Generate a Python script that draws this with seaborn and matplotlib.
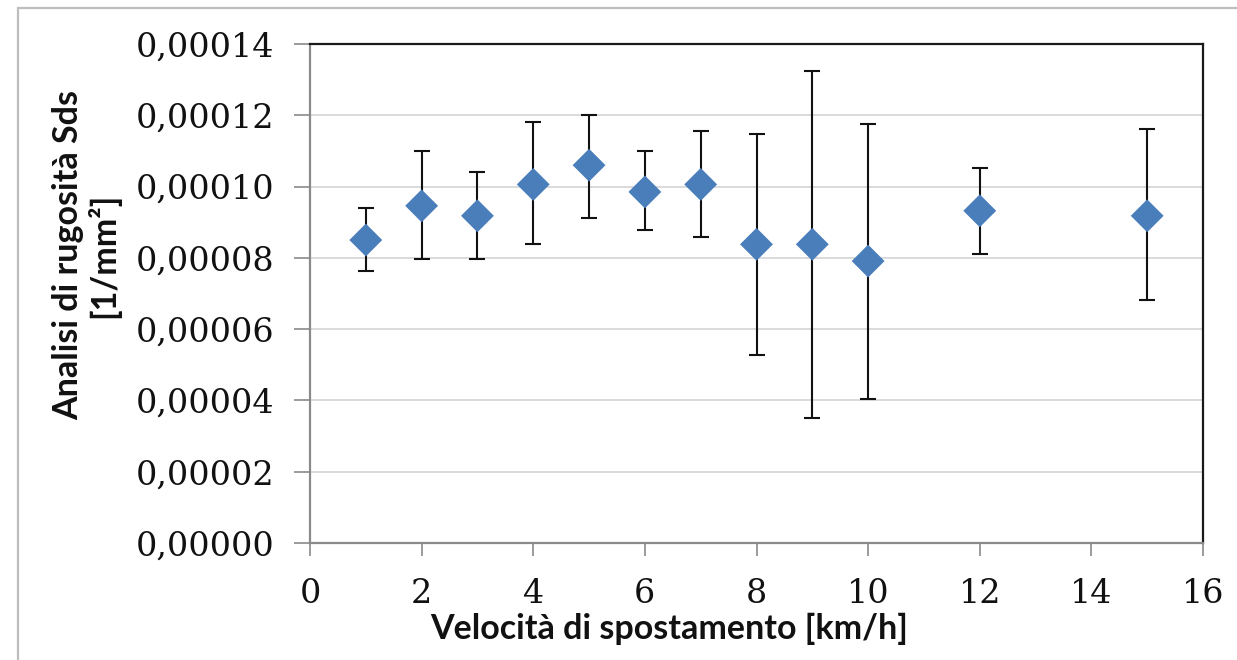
import numpy as np
import pandas as pd
import matplotlib
matplotlib.use("Agg")
import matplotlib.pyplot as plt
from matplotlib.patches import Rectangle
from matplotlib.ticker import FuncFormatter, MultipleLocator
import seaborn as sns

# Travel speed [km/h]
velocita = [1, 2, 3, 4, 5, 6, 7, 8, 9, 10, 12, 15]
# Mean Sds roughness [1/mm^2]
sds_media = [8.50e-5, 9.46e-5, 9.18e-5, 10.06e-5, 10.60e-5, 9.85e-5,
             10.06e-5, 8.38e-5, 8.38e-5, 7.91e-5, 9.32e-5, 9.18e-5]
# Upper and lower ends of the error bars
sds_max = [9.39e-5, 11.01e-5, 10.40e-5, 11.82e-5, 12.02e-5, 11.01e-5,
           11.56e-5, 11.48e-5, 13.24e-5, 11.75e-5, 10.53e-5, 11.62e-5]
sds_min = [7.64e-5, 7.97e-5, 7.97e-5, 8.38e-5, 9.11e-5, 8.77e-5,
           8.58e-5, 5.27e-5, 3.51e-5, 4.04e-5, 8.11e-5, 6.83e-5]

df = pd.DataFrame({"v": velocita, "sds": sds_media, "hi": sds_max, "lo": sds_min})

sns.set_theme(style="white")
plt.rcParams["font.family"] = ["DejaVu Serif"]

W, H = 1237, 660
fig = plt.figure(figsize=(W / 100, H / 100), dpi=100)
fig.patch.set_facecolor("white")

ax_l, ax_r, ax_t, ax_b = 310, 1203, 44, 543
ax = fig.add_axes([ax_l / W, (H - ax_b) / H, (ax_r - ax_l) / W, (ax_b - ax_t) / H])

# Error bars first, markers on top
ax.errorbar(df["v"], df["sds"],
            yerr=[df["sds"] - df["lo"], df["hi"] - df["sds"]],
            fmt="none", ecolor="#111111", elinewidth=1.5,
            capsize=6, capthick=1.5, zorder=2)
sns.scatterplot(data=df, x="v", y="sds", marker="D", s=280,
                color="#4a7ebb", edgecolor="none", linewidth=0,
                ax=ax, zorder=3, legend=False)

ax.set_xlim(0, 16)
ax.set_ylim(0, 0.00014)
ax.xaxis.set_major_locator(MultipleLocator(2))
ax.yaxis.set_major_locator(MultipleLocator(0.00002))
ax.yaxis.set_major_formatter(FuncFormatter(lambda v, p: f"{v:.5f}".replace(".", ",")))

ax.grid(axis="y", color="#d4d4d4", linewidth=1.2)
ax.grid(axis="x", visible=False)
ax.set_axisbelow(True)

for side in ("top", "right"):
    ax.spines[side].set_color("#1a1a1a")
    ax.spines[side].set_linewidth(1.6)
for side in ("left", "bottom"):
    ax.spines[side].set_color("#8a8a8a")
    ax.spines[side].set_linewidth(1.6)

ax.tick_params(axis="y", direction="out", length=11.5, width=1.2, color="#8a8a8a",
               pad=14, labelsize=24, labelcolor="#111111")
ax.tick_params(axis="x", direction="out", length=9.5, width=1.2, color="#8a8a8a",
               pad=16, labelsize=24, labelcolor="#111111")
ax.tick_params(left=True, bottom=True)

label_font = dict(family="Lato", weight="bold", size=24.5, color="#111111")
ax.set_xlabel("Velocità di spostamento [km/h]", **label_font)
ax.xaxis.set_label_coords(0.402, -0.140)
ax.set_ylabel("Analisi di rugosità Sds\n[1/mm²]", linespacing=1.05, **label_font)
ax.yaxis.set_label_coords(-0.213, 0.577)

# Light frame around the chart area
fig.add_artist(Rectangle((18 / W, -0.1), 1.2, 0.1 + (H - 8) / H,
                         transform=fig.transFigure, fill=False,
                         edgecolor="#bdbdbd", linewidth=1.6))

fig.savefig("out.png", dpi=100, facecolor="white")
